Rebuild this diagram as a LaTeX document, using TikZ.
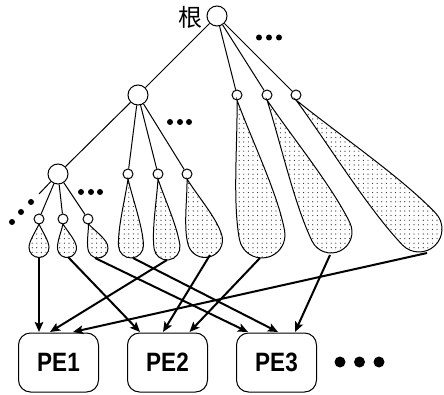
\documentclass[tikz,border=0pt]{standalone}
\usepackage{fontspec}
\usepackage{graphicx}
\setmainfont{Liberation Sans}
\newfontfamily\cjk{Noto Sans CJK SC}
\usetikzlibrary{arrows.meta,patterns.meta,calc}

% teardrop: apex (x,y), bulb centre (x,y), bulb radius; pixel-style coords, y downwards
\newcommand\tdrop[5]{%
  \pgfmathsetmacro\ddx{#3-#1}%
  \pgfmathsetmacro\ddy{#4-#2}%
  \pgfmathsetmacro\dlen{veclen(\ddx,\ddy)}%
  \pgfmathsetmacro\dang{atan2(-\ddy,\ddx)+90}%
  \begin{scope}[shift={(#1,-#2)},rotate=\dang]
    \draw[dropbody] (0,0)
      .. controls (-0.3*#5,-0.3*\dlen) and (-#5,-0.72*\dlen) .. (-#5,-\dlen)
      arc[start angle=180,end angle=360,radius=#5]
      .. controls (#5,-0.72*\dlen) and (0.3*#5,-0.3*\dlen) .. (0,0) -- cycle;
  \end{scope}}

% tall bold label for the processing elements
\newcommand\pelabel[1]{\scalebox{1}[1.18]{#1}}

\tikzset{
  dropbody/.style={line width=1pt,pattern={Dots[distance=4.6pt,radius=0.6pt]},pattern color=black!85},
  bigvx/.style={circle,draw,line width=1pt,fill=white,minimum size=20pt,inner sep=0pt},
  smallvx/.style={circle,draw,line width=1pt,fill=white,minimum size=10pt,inner sep=0pt},
  edge/.style={line width=1pt},
  pebox/.style={draw,line width=1pt,rounded corners=12pt,minimum width=80pt,minimum height=59pt,
    inner sep=0pt,font=\fontsize{22.5}{22.5}\selectfont\bfseries},
  toPE/.style={line width=2pt,-{Stealth[length=10pt,width=8.5pt,inset=2pt]}},
  ell/.style={fill=black}
}

\begin{document}
\begin{tikzpicture}[x=1pt,y=1pt]
\useasboundingbox (0,0) rectangle (444,-395);

% vertices of the tree
\node[bigvx] (root) at (217,-16) {};
\node[font=\cjk\fontsize{24}{24}\selectfont,inner sep=0pt] (rootlabel) at (190.5,-17.5) {根};
\node[bigvx] (m) at (138,-95) {};
\node[bigvx] (n) at (58,-174) {};
\node[smallvx] (r1) at (237,-95) {};
\node[smallvx] (r2) at (267,-95) {};
\node[smallvx] (r3) at (296,-95) {};
\node[smallvx] (m1) at (128,-174) {};
\node[smallvx] (m2) at (158,-174) {};
\node[smallvx] (m3) at (187,-174) {};
\node[smallvx] (n1) at (39,-219) {};
\node[smallvx] (n2) at (63,-219) {};
\node[smallvx] (n3) at (88,-219) {};
\coordinate (nstub) at (39,-194);

% tree edges
\draw[edge] (root) -- (m);
\draw[edge] (root) -- (r1);
\draw[edge] (root) -- (r2);
\draw[edge] (root) -- (r3);
\draw[edge] (m) -- (n);
\draw[edge] (m) -- (m1);
\draw[edge] (m) -- (m2);
\draw[edge] (m) -- (m3);
\draw[edge] (n) -- (n1);
\draw[edge] (n) -- (n2);
\draw[edge] (n) -- (n3);
\draw[edge] (n) -- (nstub);

% subtrees below the leaves
\tdrop{39}{224}{39}{247.5}{10}
\tdrop{63}{224}{67}{248}{9.5}
\tdrop{88.5}{224}{98}{248}{10}
\tdrop{128}{179}{131}{245.5}{12.5}
\tdrop{158}{179}{167}{247}{13}
\tdrop{187}{179}{205}{240}{17.5}
\tdrop{237}{100}{262}{235}{23}
\tdrop{267}{100}{331}{232}{21}
\tdrop{296}{100}{419}{229}{23}

% ellipses
\foreach \x in {259,269,279} \fill[ell] (\x,-37.5) circle (3);
\foreach \x in {170,180,189} \fill[ell] (\x,-122) circle (3);
\foreach \x in {81,91,100} \fill[ell] (\x,-192) circle (3);
\fill[ell] (31,-202) circle (3);
\fill[ell] (21,-212) circle (3);
\fill[ell] (12,-222) circle (3);
\foreach \x in {340,359.5,379} \fill[ell] (\x,-362) circle (5.5);

% processing elements
\node[pebox] (pe1) at (58.5,-362.5) {\pelabel{PE1}};
\node[pebox] (pe2) at (167.5,-362.5) {\pelabel{PE2}};
\node[pebox] (pe3) at (276.5,-362.5) {\pelabel{PE3}};

% outlets of the subtrees
\coordinate (o1) at (39,-257);
\coordinate (o2) at (68,-257);
\coordinate (o3) at (95,-258);
\coordinate (o4) at (133,-258);
\coordinate (o5) at (167,-260);
\coordinate (o6) at (210,-255);
\coordinate (o7) at (260,-258);
\coordinate (o8) at (330,-255);
\coordinate (o9) at (427,-253);

% assignment of subtrees to processing elements
\draw[toPE] (o1) -- ([xshift=-19.5pt,yshift=0.5pt]pe1.north);
\draw[toPE] (o2) -- ([xshift=-27.5pt,yshift=0.5pt]pe2.north);
\draw[toPE] (o3) -- ([xshift=-28.5pt,yshift=0.5pt]pe3.north);
\draw[toPE] (o4) -- ([xshift=1.5pt,yshift=0.5pt]pe3.north);
\draw[toPE] (o5) -- ([xshift=-8.5pt,yshift=0.5pt]pe1.north);
\draw[toPE] (o6) -- ([xshift=-4.5pt,yshift=0.5pt]pe2.north);
\draw[toPE] (o7) -- ([xshift=22pt,yshift=0.5pt]pe2.north);
\draw[toPE] (o8) -- ([xshift=18.5pt,yshift=0.5pt]pe3.north);
\draw[toPE] (o9) -- ([xshift=14.5pt,yshift=0.5pt]pe1.north);
\end{tikzpicture}
\end{document}
